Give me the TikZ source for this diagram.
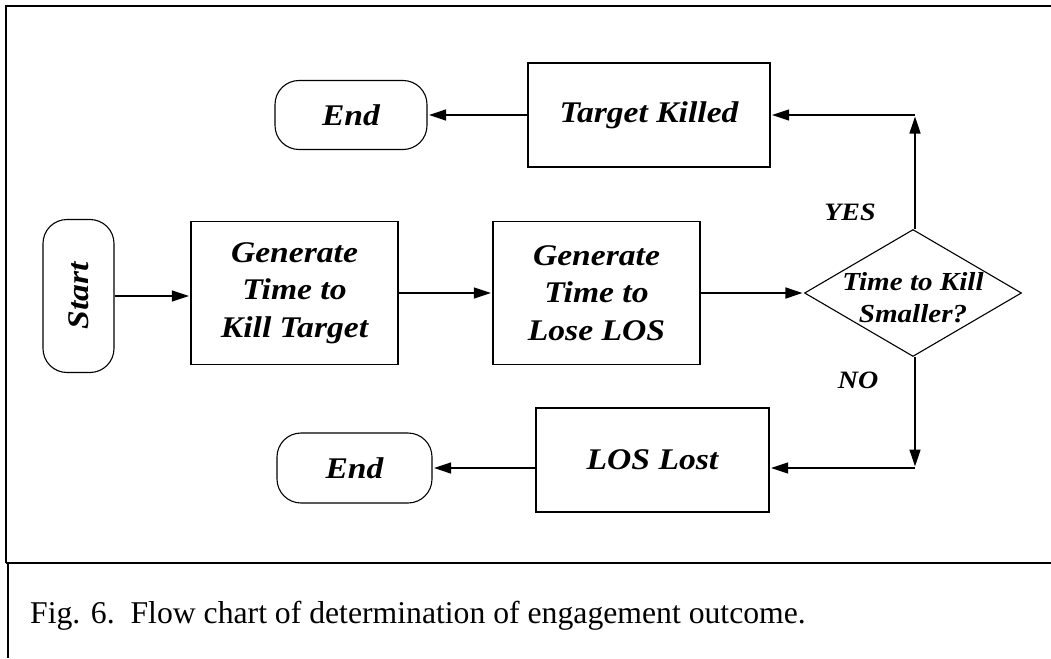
\documentclass[tikz,border=0pt]{standalone}
\usepackage{fontspec}
\setmainfont{Liberation Serif}
\newfontfamily\dfont{Liberation Serif Bold Italic}[FakeStretch=1.12]
\usetikzlibrary{arrows.meta,shapes.geometric}
\begin{document}
\begin{tikzpicture}[x=1pt,y=-1pt,
  lbl/.style={font=\fontsize{30}{37.5}\selectfont\dfont, align=center},
  stepbox/.style={draw, line width=1.3pt, inner sep=0pt, lbl},
  pill/.style={draw, line width=1.1pt, rounded corners=24pt, inner sep=0pt, lbl},
  dia/.style={draw, diamond, line width=1.1pt, inner sep=0pt},
  arr/.style={line width=1.4pt, -{Triangle[length=17pt,width=11pt]}, shorten >=1.5pt},
  frame/.style={line width=2pt}]
\useasboundingbox (0,0) rectangle (1051,658);
% frame
\draw[frame] (6,563) -- (6,6) -- (1051,6);
\draw[frame] (6,563) -- (1051,563);
\draw[frame] (8,563) -- (8,658);
% nodes
\node[pill, rotate=90, minimum width=153pt, minimum height=71pt] (start) at (78.5,296) {Start};
\node[stepbox, minimum width=207pt, minimum height=143pt] (gen1) at (294.5,293) {Generate\\Time to\\Kill Target};
\node[stepbox, minimum width=207pt, minimum height=143pt] (gen2) at (596.5,293) {Generate\\Time to\\Lose LOS};
\node[dia, minimum width=217pt, minimum height=127pt] (dec) at (913,293) {};
\node[lbl, font=\fontsize{26}{32}\selectfont\dfont] (dectext) at (913,298) {Time to Kill\\Smaller?};
\node[stepbox, minimum width=242pt, minimum height=104pt] (tk) at (649,115) {Target Killed};
\node[stepbox, minimum width=233pt, minimum height=104pt] (ll) at (652.5,460) {LOS Lost};
\node[pill, minimum width=152pt, minimum height=69pt] (end1) at (351,115) {End};
\node[pill, minimum width=155pt, minimum height=70pt] (end2) at (354.5,468) {End};
\node[lbl, font=\fontsize{25}{30}\selectfont\dfont] (yes) at (850,212) {YES};
\node[lbl, font=\fontsize{25}{30}\selectfont\dfont] (no) at (858,380) {NO};
\coordinate (cup) at (915,115);
\coordinate (cdn) at (915,468);
% connectors
\draw[arr] (start.south) -- (start.south -| gen1.west);
\draw[arr] (gen1.east) -- (gen2.west);
\draw[arr] (gen2.east) -- (dec.west);
\draw[arr] (dec.north -| cup) -- (cup);
\draw[arr] (cup) -- (tk.east);
\draw[arr] (tk.west) -- (end1.east);
\draw[arr] (dec.south -| cdn) -- (cdn);
\draw[arr] (cdn) -- (ll.east |- cdn);
\draw[arr] (ll.west |- cdn) -- (end2.east);
% caption
\node[anchor=base west, inner sep=0pt, font=\fontsize{31.7}{36}\selectfont] (cap) at (30,623) {Fig. 6.\ \ Flow chart of determination of engagement outcome.};
\end{tikzpicture}
\end{document}
